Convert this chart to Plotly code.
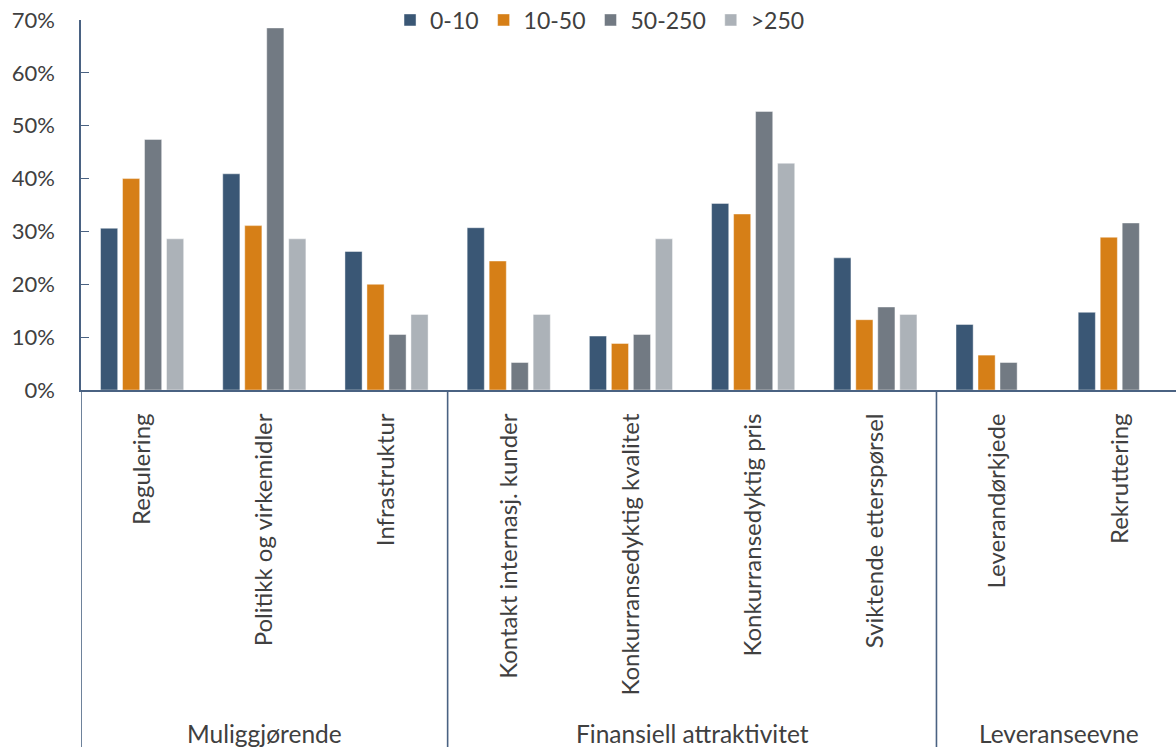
import plotly.graph_objects as go

categories = ["Regulering", "Politikk og virkemidler", "Infrastruktur",
              "Kontakt internasj. kunder", "Konkurransedyktig kvalitet",
              "Konkurransedyktig pris", "Sviktende etterspørsel",
              "Leverandørkjede", "Rekruttering"]
groups = ["Muliggjørende", "Finansiell attraktivitet", "Leveranseevne"]
group_sizes = [3, 4, 2]

series_names = ["0-10", "10-50", "50-250", ">250"]
s_0_10 = [0.306, 0.409, 0.262, 0.307, 0.102, 0.353, 0.250, 0.124, 0.147]
s_10_50 = [0.400, 0.311, 0.200, 0.244, 0.088, 0.333, 0.133, 0.066, 0.289]
s_50_250 = [0.474, 0.685, 0.105, 0.052, 0.105, 0.527, 0.157, 0.052, 0.316]
s_250 = [0.286, 0.286, 0.143, 0.143, 0.286, 0.429, 0.143, None, None]
colors = ["#3A5775", "#D67F17", "#727A83", "#ACB2B8"]

FONT = "Lato"
TXT = "#404040"
AX = "#4A6282"

fig = go.Figure()
for name, vals, col in zip(series_names, [s_0_10, s_10_50, s_50_250, s_250], colors):
    fig.add_trace(go.Bar(
        x=categories, y=vals, name=name,
        marker=dict(color=col, line=dict(color="rgba(255,255,255,0.55)", width=0.8)),
    ))

# group separators and labels
shapes = []
annotations = []
start = 0
bounds = [-0.5]
for g, n in zip(groups, group_sizes):
    center = start + (n - 1) / 2
    annotations.append(dict(
        x=center, xref="x", y=-0.928, yref="paper", text=g, showarrow=False,
        font=dict(family=FONT, size=24.5, color=TXT), xanchor="center", yanchor="middle"))
    start += n
    bounds.append(start - 0.5)

for b in bounds:
    shapes.append(dict(type="line", xref="x", yref="paper", x0=b, x1=b,
                       y0=0, y1=-1.0, line=dict(color=AX, width=1.6)))

fig.update_layout(
    width=1176, height=747,
    margin=dict(l=81, r=0, t=20, b=357, autoexpand=False),
    paper_bgcolor="white", plot_bgcolor="white",
    barmode="group", bargap=0.28, bargroupgap=0.22,
    font=dict(family=FONT, size=21, color=TXT),
    showlegend=True,
    legend=dict(orientation="h", x=0.474, xanchor="center", y=1.0, yanchor="middle",
                font=dict(family=FONT, size=23, color=TXT),
                bgcolor="rgba(0,0,0,0)", itemwidth=30, traceorder="normal"),
    shapes=shapes, annotations=annotations,
)
fig.update_xaxes(
    type="category", range=[-0.5, 8.46], showline=True, linecolor=AX, linewidth=1.8,
    ticks="", tickangle=-90, ticklabelstandoff=12,
    tickfont=dict(family=FONT, size=24, color=TXT), showgrid=False, zeroline=False,
    automargin=False,
)
fig.update_yaxes(
    range=[0, 0.7], dtick=0.1, tickformat=".0%", showline=True, linecolor=AX,
    linewidth=1.6, ticks="inside", ticklen=8, tickcolor=AX, tickwidth=1.4,
    ticklabelstandoff=20, showgrid=False, zeroline=False,
    tickfont=dict(family=FONT, size=22, color=TXT), automargin=False,
)

fig.write_html("out.html")
